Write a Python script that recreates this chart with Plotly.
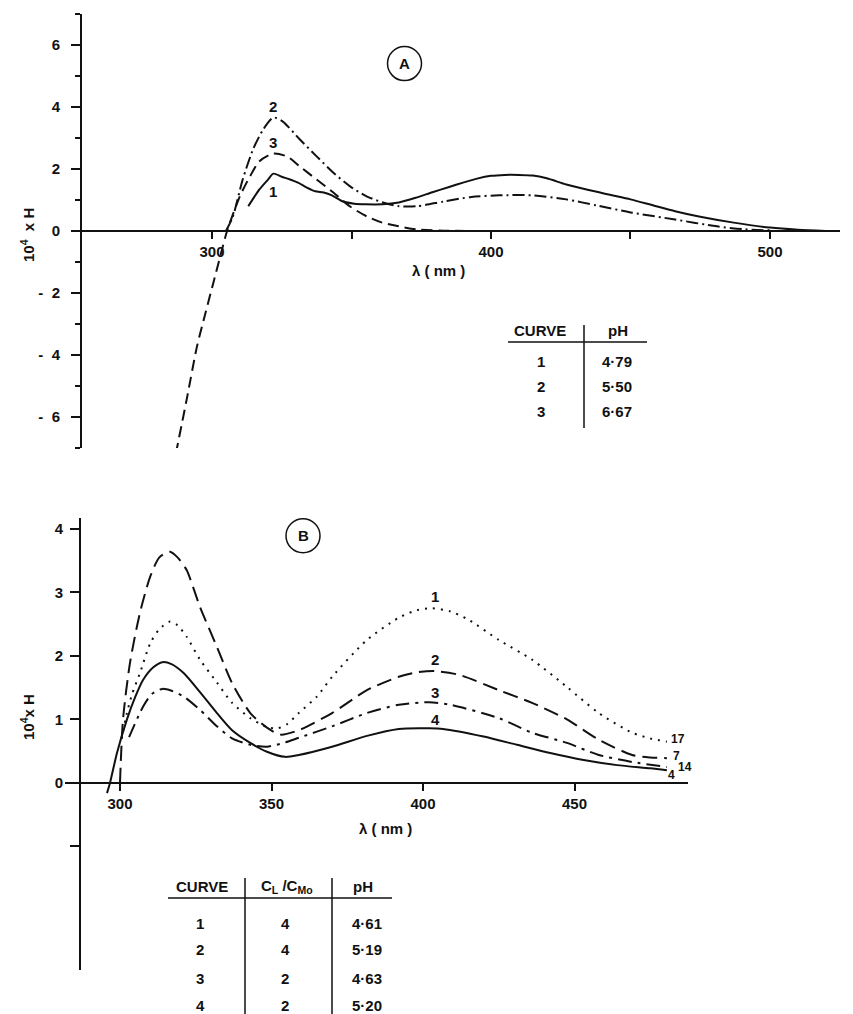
import plotly.graph_objects as go

W, H = 853, 1014
OFF = 8  # page margin around the plot div
INK = "#111111"
FONT = "Liberation Sans"

# ---- panel A : 10^4 x H vs wavelength, three pH values
wl_a1 = [313, 317, 320, 322, 325, 328, 331, 334, 337, 340, 343, 347, 351, 355, 361, 367, 373, 379,
         385, 390, 395, 400, 405, 410, 415, 420, 427, 435, 443, 450, 458, 466, 475, 487, 500, 510, 520]
h_a1 = [0.8, 1.34, 1.65, 1.85, 1.75, 1.66, 1.55, 1.4, 1.28, 1.24, 1.15, 0.95, 0.88, 0.86, 0.86, 0.92,
        1.07, 1.25, 1.42, 1.56, 1.69, 1.78, 1.81, 1.81, 1.79, 1.7, 1.5, 1.32, 1.16, 1.02, 0.83, 0.64,
        0.46, 0.27, 0.11, 0.04, 0.0]
wl_a2 = [305, 307.5, 311, 314.7, 318.3, 322, 325.4, 331.5, 337.6, 343.4, 349.5, 355.6, 361.3, 367,
         373.5, 383, 393, 403, 415, 427, 438, 450, 466, 481, 490, 500]
h_a2 = [0.0, 0.47, 1.66, 2.63, 3.27, 3.66, 3.53, 2.95, 2.4, 1.89, 1.44, 1.11, 0.92, 0.8, 0.8, 0.95,
        1.1, 1.15, 1.15, 1.02, 0.82, 0.6, 0.37, 0.15, 0.06, 0.02]
wl_a3 = [287, 291, 294.6, 297.5, 300.4, 303, 305.4, 310, 313.6, 317, 322, 327, 331.5, 337.5, 343.5,
         349.5, 355.5, 361, 367, 373.5, 383, 395]
h_a3 = [-7.2, -5.4, -3.73, -2.7, -1.7, -0.8, 0.0, 1.12, 1.76, 2.25, 2.5, 2.4, 2.08, 1.66, 1.24, 0.79,
        0.47, 0.27, 0.15, 0.05, 0.01, 0.0]

curve_a = ["1", "2", "3"]
ph_a = ["4·79", "5·50", "6·67"]

# ---- panel B : four curves, C_L/C_Mo and pH
wl_b1 = [300.5, 302.3, 304, 306.6, 310, 313, 316.5, 319, 322, 326.4, 332, 337, 343, 348.5, 352, 355,
         359, 365, 370, 381.5, 392, 398, 403, 409, 415, 425, 436, 447.5, 458, 469, 475, 480.5]
h_b1 = [0.7, 1.1, 1.4, 1.73, 2.2, 2.42, 2.54, 2.48, 2.3, 1.94, 1.58, 1.26, 1.02, 0.88, 0.86, 0.92,
        1.1, 1.36, 1.67, 2.25, 2.6, 2.72, 2.75, 2.7, 2.57, 2.25, 1.94, 1.51, 1.1, 0.79, 0.7, 0.65]
wl_b2 = [300, 301, 303.3, 306.6, 310, 313, 316.5, 319, 322, 326.4, 332, 337, 343, 348.5, 353, 359,
         370, 381.5, 392, 398, 404, 412, 425, 436, 447.5, 458, 469, 475, 480.5]
h_b2 = [0.0, 1.0, 1.89, 2.68, 3.25, 3.55, 3.64, 3.55, 3.35, 2.77, 2.14, 1.57, 1.1, 0.87, 0.76, 0.83,
        1.1, 1.46, 1.67, 1.74, 1.76, 1.7, 1.46, 1.26, 1.0, 0.68, 0.44, 0.4, 0.39]
wl_b3 = [303, 307.6, 310.5, 314, 317, 321, 326.4, 332, 337, 343, 348.5, 354, 359, 370, 381.5, 392,
         402, 409, 425, 436, 447.5, 458, 469, 480.5]
h_b3 = [0.72, 1.2, 1.4, 1.48, 1.45, 1.36, 1.15, 0.89, 0.7, 0.6, 0.57, 0.63, 0.71, 0.89, 1.1, 1.23,
        1.27, 1.23, 1.02, 0.79, 0.63, 0.44, 0.33, 0.25]
wl_b4 = [295.7, 296.7, 299, 302.3, 305, 307.6, 311, 314, 317, 321, 326.4, 332, 337, 343, 348.5, 354.5,
         359, 370, 381.5, 392, 402, 406.6, 420, 431, 442, 453, 464, 475, 480.5]
h_b4 = [-0.16, 0.0, 0.47, 1.0, 1.35, 1.62, 1.82, 1.9, 1.87, 1.73, 1.43, 1.1, 0.83, 0.63, 0.49, 0.41,
        0.44, 0.57, 0.74, 0.85, 0.86, 0.85, 0.73, 0.6, 0.47, 0.36, 0.28, 0.23, 0.2]

curve_b = ["1", "2", "3", "4"]
ratio_b = ["4", "4", "2", "2"]
ph_b = ["4·61", "5·19", "4·63", "5·20"]
end_labels_b = ["17", "7", "14", "4"]

FW, FH = W - OFF, H - OFF


def px(x):
    return (x - OFF) / FW


def py(y):
    return 1 - (y - OFF) / FH


fig = go.Figure()

# panel A traces
styles_a = [None, "12px,4px,2px,4px", "11px,6px"]
for wl, h, d in zip([wl_a1, wl_a2, wl_a3], [h_a1, h_a2, h_a3], styles_a):
    fig.add_trace(go.Scatter(x=wl, y=h, mode="lines", xaxis="x", yaxis="y", showlegend=False,
                             line=dict(color=INK, width=2, shape="spline", smoothing=0.7,
                                       dash=d if d else "solid")))

# panel B traces
styles_b = ["2px,6px", "15px,7px", "14px,6px,3px,6px", None]
for wl, h, d in zip([wl_b1, wl_b2, wl_b3, wl_b4], [h_b1, h_b2, h_b3, h_b4], styles_b):
    fig.add_trace(go.Scatter(x=wl, y=h, mode="lines", xaxis="x2", yaxis="y2", showlegend=False,
                             line=dict(color=INK, width=2, shape="spline", smoothing=0.7,
                                       dash=d if d else "solid")))

tick_font = dict(family=FONT, size=15, color=INK, weight="bold")

ya_dom = [py(448), py(14)]
ya_rng = [-7, 7]
yb_dom = [py(970), py(518)]
yb_rng = [-2.945, 4.17]
zero_a = ya_dom[0] + (0 - ya_rng[0]) / (ya_rng[1] - ya_rng[0]) * (ya_dom[1] - ya_dom[0])
zero_b = yb_dom[0] + (0 - yb_rng[0]) / (yb_rng[1] - yb_rng[0]) * (yb_dom[1] - yb_dom[0])

common = dict(showgrid=False, zeroline=False, showline=True, linecolor=INK, linewidth=2,
              ticks="outside", tickcolor=INK, tickwidth=2, tickfont=tick_font)

fig.update_layout(
    width=FW, height=FH, margin=dict(l=0, r=0, t=0, b=0),
    paper_bgcolor="white", plot_bgcolor="white",
    xaxis=dict(domain=[px(82), px(840)], range=[253.4, 525.1], anchor="free", position=zero_a,
               tickvals=[300, 400, 500], ticklen=7,
               minor=dict(tickvals=[350, 450], ticks="outside", ticklen=7, tickcolor=INK, tickwidth=2),
               **common),
    yaxis=dict(domain=ya_dom, range=ya_rng, anchor="x",
               tickvals=[-6, -4, -2, 0, 2, 4, 6], ticktext=["-  6", "-  4", "-  2", "0", "2", "4", "6"],
               ticklen=9, ticklabelstandoff=8,
               minor=dict(dtick=1, ticks="outside", ticklen=5, tickcolor=INK, tickwidth=2),
               **common),
    xaxis2=dict(domain=[px(65), px(688)], range=[281.85, 487.46], anchor="free", position=zero_b,
                tickvals=[300, 350, 400, 450], ticklen=7, **common),
    yaxis2=dict(domain=yb_dom, range=yb_rng, anchor="free", position=px(80),
                tickvals=[0, 1, 2, 3, 4], ticklen=9, ticklabelstandoff=4,
                minor=dict(tickvals=[-1], ticks="outside", ticklen=9, tickcolor=INK, tickwidth=2),
                **common),
)

ann = []
shapes = []


def txt(x, y, t, size=14, xref="paper", yref="paper", angle=0):
    ann.append(dict(x=x, y=y, xref=xref, yref=yref, text=t, showarrow=False, textangle=angle,
                    font=dict(family=FONT, size=size, color=INK, weight="bold"),
                    xanchor="center", yanchor="middle"))


def line(x0, y0, x1, y1):
    shapes.append(dict(type="line", xref="paper", yref="paper", x0=px(x0), y0=py(y0),
                       x1=px(x1), y1=py(y1), line=dict(color=INK, width=1.5)))


# axis titles
txt(px(27), py(235), "10<sup>4</sup>  x H", size=15, angle=-90)
txt(px(438), py(270), "λ ( nm )", size=15)
txt(px(27), py(717), "10<sup>4</sup>x H", size=15, angle=-90)
txt(px(385), py(828), "λ ( nm )", size=15)

# curve labels, panel A
for lab, yv in zip(["2", "3", "1"], [4.0, 2.85, 1.27]):
    txt(322, yv, lab, size=15, xref="x", yref="y")

# curve labels, panel B
for lab, yv in zip(curve_b, [2.93, 1.94, 1.42, 1.0]):
    txt(404, yv, lab, size=15, xref="x2", yref="y2")

# end labels, panel B
for lab, xv, yv in zip(end_labels_b, [484, 483.5, 486.5, 482], [0.69, 0.43, 0.25, 0.12]):
    txt(xv, yv, lab, size=12, xref="x2", yref="y2")

# circled panel letters
for lab, xv, yv, xr, yr in [("A", 369, 5.4, "x", "y"), ("B", 360.4, 3.89, "x2", "y2")]:
    shapes.append(dict(type="circle", xref=xr, yref=yr, xsizemode="pixel", ysizemode="pixel",
                       xanchor=xv, yanchor=yv, x0=-17, x1=17, y0=-17, y1=17,
                       line=dict(color=INK, width=1.5)))
    txt(xv, yv, lab, size=15, xref=xr, yref=yr)

# table A
txt(px(540), py(330), "CURVE", size=15)
txt(px(618), py(330), "pH", size=15)
line(508, 342, 647, 342)
line(584, 325, 584, 428)
for i, (c, p) in enumerate(zip(curve_a, ph_a)):
    txt(px(541), py(361 + 25 * i), c, size=15)
    txt(px(617), py(361 + 25 * i), p, size=15)

# table B
txt(px(202), py(886), "CURVE", size=15)
txt(px(287), py(886), "C<sub>L</sub> /C<sub>Mo</sub>", size=15)
txt(px(363), py(886), "pH", size=15)
line(168, 898, 392, 898)
line(245, 878, 245, 1014)
line(332, 878, 332, 1014)
for i, (c, r, p) in enumerate(zip(curve_b, ratio_b, ph_b)):
    yy = [923, 949, 978, 1005][i]
    txt(px(200), py(yy), c, size=15)
    txt(px(285), py(yy), r, size=15)
    txt(px(367), py(yy), p, size=15)

fig.update_layout(annotations=ann, shapes=shapes)
fig.write_html("out.html")
